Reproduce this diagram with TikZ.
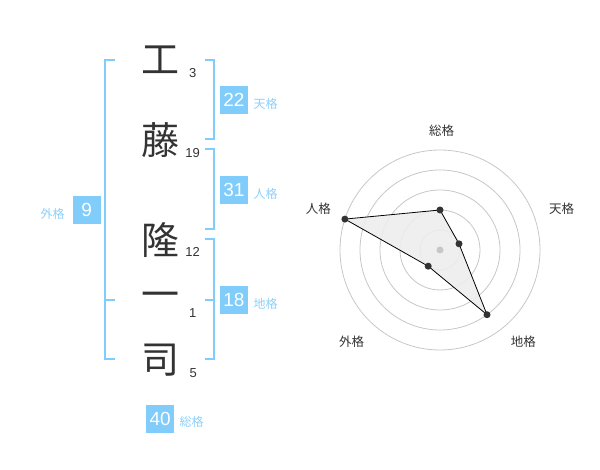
\documentclass[tikz,border=0pt]{standalone}
\usepackage{fontspec}
\setmainfont{Liberation Sans}
\newfontfamily\cjk{Noto Sans CJK JP}
\definecolor{lb}{RGB}{128,204,250}
\definecolor{lbt}{RGB}{140,208,250}
\definecolor{ink}{RGB}{51,51,51}
\begin{document}
\begin{tikzpicture}[x=1pt,y=-1pt,
  kanji/.style={font=\cjk\fontsize{38}{38}\selectfont, text=ink, inner sep=0},
  strokes/.style={font=\fontsize{13}{13}\selectfont, text=ink, inner sep=0},
  valbox/.style={fill=lb, text=white, minimum size=28pt, inner sep=0, font=\fontsize{19}{19}\selectfont},
  gl/.style={font=\cjk\fontsize{12}{12}\selectfont, text=lbt, inner sep=0},
  brk/.style={draw=lb, line width=2pt},
  ring/.style={draw=black!22, line width=0.8pt},
  axl/.style={font=\cjk\fontsize{12.5}{12.5}\selectfont, text=ink, inner sep=0},
  dot/.style={circle, fill=ink, inner sep=0, minimum size=7pt}
]
\useasboundingbox (0,0) rectangle (600,470);
% characters
\node[kanji] (k1) at (160,60) {工};
\node[kanji] (k2) at (160,140) {藤};
\node[kanji] (k3) at (160,240) {隆};
\node[kanji] (k4) at (160,300) {一};
\node[kanji] (k5) at (160,360) {司};
% stroke counts
\node[strokes] (s1) at (192.7,72.7) {3};
\node[strokes] (s2) at (192.7,152.7) {19};
\node[strokes] (s3) at (192.7,252.3) {12};
\node[strokes] (s4) at (192.7,313) {1};
\node[strokes] (s5) at (193.3,372.7) {5};
% brackets
\draw[brk] (205,60) -- (214,60) -- (214,139) -- (205,139);
\draw[brk] (205,149) -- (214,149) -- (214,229) -- (205,229);
\draw[brk] (205,239) -- (214,239) -- (214,359) -- (205,359);
\draw[brk] (205,300) -- (214,300);
\draw[brk] (115,60) -- (105,60) -- (105,359) -- (115,359);
\draw[brk] (105,300) -- (115,300);
% value boxes
\node[valbox] (ten) at (234,100) {22};
\node[gl] (tenl) at (265.7,104) {天格};
\node[valbox] (jin) at (234,190) {31};
\node[gl] (jinl) at (265.7,194) {人格};
\node[valbox] (chi) at (234,300) {18};
\node[gl] (chil) at (265.7,304.3) {地格};
\node[valbox] (gai) at (86.7,210) {9};
\node[gl] (gail) at (52.7,214.3) {外格};
\node[valbox] (sou) at (160.2,419) {40};
\node[gl] (soul) at (191.7,422.3) {総格};
% radar
\coordinate (c) at (440,250);
\foreach \r in {20,40,60,80,100} \draw[ring] (c) circle[radius=\r];
\coordinate (pS) at (440,210);
\coordinate (pT) at (459.0,243.8);
\coordinate (pC) at (487.0,314.7);
\coordinate (pG) at (428.2,266.2);
\coordinate (pJ) at (344.9,219.1);
\fill[black!7, opacity=0.9] (pS) -- (pT) -- (pC) -- (pG) -- (pJ) -- cycle;
\draw[black, line width=0.8pt, line join=round] (pS) -- (pT) -- (pC) -- (pG) -- (pJ) -- cycle;
\fill[black!22] (c) circle[radius=3.5];
\foreach \p in {pS,pT,pC,pG,pJ} \node[dot] at (\p) {};
\node[axl] (aS) at (441.7,130.7) {総格};
\node[axl] (aT) at (561.7,209) {天格};
\node[axl] (aJ) at (318.3,209) {人格};
\node[axl] (aC) at (523.3,341.7) {地格};
\node[axl] (aG) at (351.7,341.7) {外格};
\end{tikzpicture}
\end{document}
